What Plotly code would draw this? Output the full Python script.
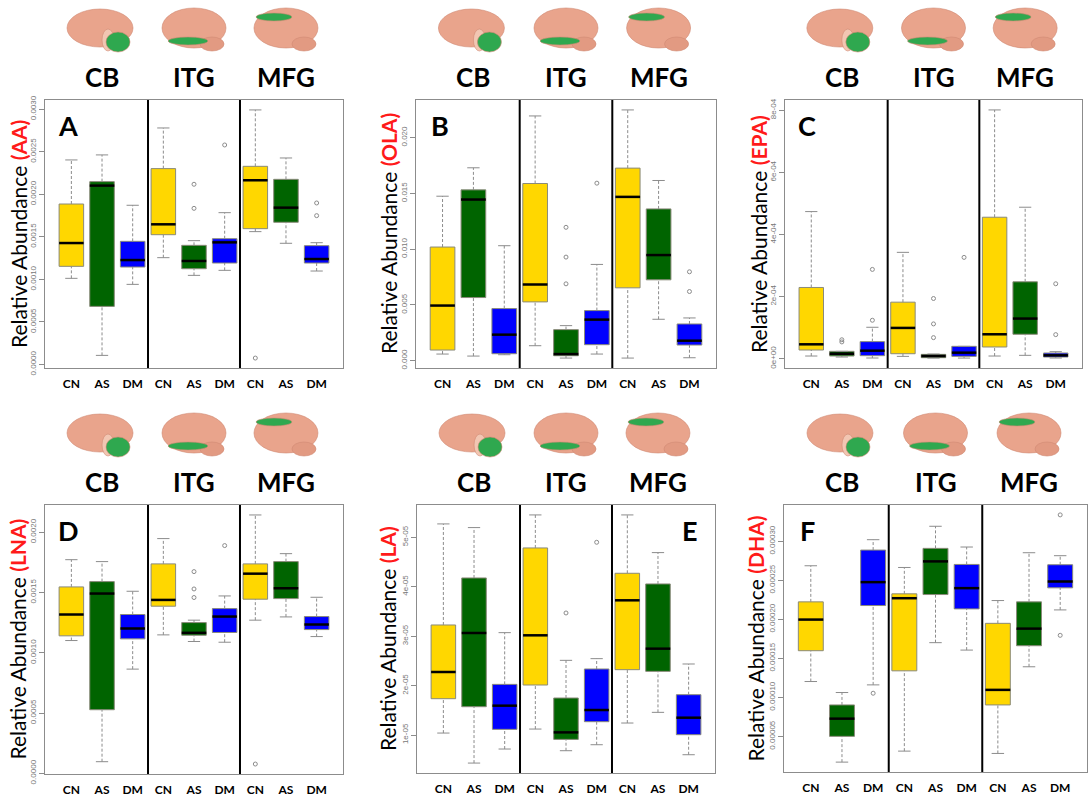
import plotly.graph_objects as go

GROUPS = ["CN", "AS", "DM"]
REGIONS = ["CB", "ITG", "MFG"]
GROUP_COLORS = ["#FFD700", "#006400", "#0000FF"]

# rows: CB-CN, CB-AS, CB-DM, ITG-CN, ITG-AS, ITG-DM, MFG-CN, MFG-AS, MFG-DM
# cols: lower whisker, Q1, median, Q3, upper whisker
AA = [
    [0.001012, 0.001153, 0.001427, 0.001886, 0.002404],
    [0.000106, 0.000682, 0.002102, 0.002149, 0.002463],
    [0.000941, 0.001145, 0.001227, 0.001447, 0.001871],
    [0.001255, 0.001525, 0.001647, 0.002302, 0.002780],
    [0.001047, 0.001125, 0.001216, 0.001400, 0.001455],
    [0.001106, 0.001192, 0.001435, 0.001478, 0.001784],
    [0.001561, 0.001596, 0.002165, 0.002329, 0.002992],
    [0.001424, 0.001671, 0.001843, 0.002176, 0.002427],
    [0.001098, 0.001192, 0.001239, 0.001396, 0.001431],
]
AA_OUT = [[5, 0.002118], [5, 0.001835], [6, 0.002580], [7, 0.0000745],
          [9, 0.001898], [9, 0.001749]]

OLA = [
    [0.00060, 0.00096, 0.004948, 0.010195, 0.014753],
    [0.00042, 0.005667, 0.014453, 0.015322, 0.017301],
    [0.00054, 0.00063, 0.002339, 0.004678, 0.010315],
    [0.001349, 0.005277, 0.006837, 0.015892, 0.021949],
    [0.00024, 0.00045, 0.00060, 0.002789, 0.003148],
    [0.00060, 0.001439, 0.003688, 0.004498, 0.008636],
    [0.00024, 0.006537, 0.014693, 0.017271, 0.022489],
    [0.003718, 0.007256, 0.009475, 0.013613, 0.016162],
    [0.00027, 0.001409, 0.001799, 0.003298, 0.003838],
]
OLA_OUT = [[5, 0.011964], [5, 0.009295], [5, 0.006897], [6, 0.015922],
           [9, 0.007976], [9, 0.006207]]

EPA = [
    [8.6e-6, 2.8e-5, 4.63e-5, 2.293e-4, 4.737e-4],
    [5.4e-6, 8.6e-6, 1.6e-5, 2.37e-5, 2.37e-5],
    [2.2e-6, 9.7e-6, 2.58e-5, 5.49e-5, 1.012e-4],
    [7.5e-6, 1.6e-5, 9.91e-5, 1.82e-4, 3.424e-4],
    [2.0e-6, 3.2e-6, 8.6e-6, 1.4e-5, 1.5e-5],
    [2.0e-6, 7.5e-6, 1.94e-5, 3.98e-5, 3.98e-5],
    [8.6e-6, 3.77e-5, 7.86e-5, 4.555e-4, 8.01e-4],
    [1.08e-5, 7.86e-5, 1.292e-4, 2.476e-4, 4.877e-4],
    [2.2e-6, 5.4e-6, 1.08e-5, 1.83e-5, 2.26e-5],
]
EPA_OUT = [[2, 6.1e-5], [2, 5.4e-5], [3, 2.875e-4], [3, 1.238e-4],
           [5, 1.938e-4], [5, 1.12e-4], [5, 6.78e-5], [6, 3.262e-4],
           [9, 2.412e-4], [9, 7.75e-5]]

LNA = [
    [0.001102, 0.001141, 0.001318, 0.001547, 0.001773],
    [0.0000967, 0.000528, 0.001492, 0.001591, 0.001757],
    [0.000865, 0.001116, 0.001202, 0.001318, 0.001511],
    [0.001149, 0.001387, 0.001439, 0.001738, 0.001948],
    [0.001094, 0.001146, 0.001166, 0.001251, 0.001271],
    [0.001088, 0.001169, 0.001301, 0.001367, 0.001472],
    [0.001271, 0.001445, 0.001657, 0.001738, 0.002144],
    [0.001298, 0.001450, 0.001536, 0.001757, 0.001823],
    [0.001135, 0.001193, 0.001235, 0.001301, 0.001461],
]
LNA_OUT = [[5, 0.001674], [5, 0.001530], [5, 0.001459], [6, 0.001890],
           [7, 0.0000773]]

LA = [
    [1.04e-5, 1.735e-5, 2.275e-5, 3.226e-5, 5.27e-5],
    [4.33e-6, 1.573e-5, 3.064e-5, 4.177e-5, 5.196e-5],
    [7.17e-6, 1.115e-5, 1.594e-5, 2.025e-5, 3.071e-5],
    [1.121e-5, 2.012e-5, 3.017e-5, 4.784e-5, 5.452e-5],
    [6.83e-6, 9.12e-6, 1.054e-5, 1.749e-5, 2.511e-5],
    [8.04e-6, 1.27e-5, 1.506e-5, 2.336e-5, 2.545e-5],
    [1.243e-5, 2.322e-5, 3.725e-5, 4.272e-5, 5.452e-5],
    [1.459e-5, 2.288e-5, 2.747e-5, 4.056e-5, 4.69e-5],
    [6.02e-6, 1.007e-5, 1.351e-5, 1.816e-5, 2.437e-5],
]
LA_OUT = [[5, 3.469e-5], [6, 4.899e-5]]

DHA = [
    [1.203e-4, 1.598e-4, 1.997e-4, 2.224e-4, 2.687e-4],
    [1.7e-5, 5.0e-5, 7.27e-5, 9.03e-5, 1.062e-4],
    [1.16e-4, 2.177e-4, 2.477e-4, 2.888e-4, 3.021e-4],
    [3.11e-5, 1.34e-4, 2.271e-4, 2.327e-4, 2.665e-4],
    [1.701e-4, 2.318e-4, 2.743e-4, 2.91e-4, 3.193e-4],
    [1.606e-4, 2.134e-4, 2.4e-4, 2.704e-4, 2.927e-4],
    [2.81e-5, 9.03e-5, 1.096e-4, 1.949e-4, 2.241e-4],
    [1.392e-4, 1.662e-4, 1.881e-4, 2.224e-4, 2.854e-4],
    [2.121e-4, 2.404e-4, 2.485e-4, 2.7e-4, 2.816e-4],
]
DHA_OUT = [[3, 1.053e-4], [9, 3.339e-4], [9, 1.795e-4]]

AA_TICKS = [0, 0.0005, 0.001, 0.0015, 0.002, 0.0025, 0.003]
AA_LABELS = ["0.0000", "0.0005", "0.0010", "0.0015", "0.0020", "0.0025", "0.0030"]
OLA_TICKS = [0, 0.005, 0.01, 0.015, 0.02]
OLA_LABELS = ["0.000", "0.005", "0.010", "0.015", "0.020"]
EPA_TICKS = [0, 2e-4, 4e-4, 6e-4, 8e-4]
EPA_LABELS = ["0e+00", "2e-04", "4e-04", "6e-04", "8e-04"]
LNA_TICKS = [0, 0.0005, 0.001, 0.0015, 0.002]
LNA_LABELS = ["0.0000", "0.0005", "0.0010", "0.0015", "0.0020"]
LA_TICKS = [1e-5, 2e-5, 3e-5, 4e-5, 5e-5]
LA_LABELS = ["1e-05", "2e-05", "3e-05", "4e-05", "5e-05"]
DHA_TICKS = [5e-5, 1e-4, 1.5e-4, 2e-4, 2.5e-4, 3e-4]
DHA_LABELS = ["0.00005", "0.00010", "0.00015", "0.00020", "0.00025", "0.00030"]

W, H = 1091, 800

# letter, fatty acid, stats, outliers, ticks, labels, pixel box (l, r, t, b),
# title shift, letter shift (negative = from the right edge)
panels = [
    ("A", "AA", AA, AA_OUT, AA_TICKS, AA_LABELS, (45, 343, 100, 368), 27, 23),
    ("B", "OLA", OLA, OLA_OUT, OLA_TICKS, OLA_LABELS, (416, 716, 100, 368), 28, 24),
    ("C", "EPA", EPA, EPA_OUT, EPA_TICKS, EPA_LABELS, (785, 1082, 100, 368), 27, 22),
    ("D", "LNA", LNA, LNA_OUT, LNA_TICKS, LNA_LABELS, (45, 343, 505, 774), 28, 23),
    ("E", "LA", LA, LA_OUT, LA_TICKS, LA_LABELS, (417, 715, 505, 773), 30, -25),
    ("F", "DHA", DHA, DHA_OUT, DHA_TICKS, DHA_LABELS, (784, 1087, 505, 772), 29, 23),
]

# brain icon pieces per region (pixel offsets from the icon centre): dx, dy, w, h, colour
BRAIN_PARTS = [
    [(-2, 4, 66, 38, "#E9A48C"), (6, -8, 12, 22, "#F2C6B2"), (16, -10, 24, 20, "#2FA84F")],
    [(0, 4, 64, 40, "#E9A48C"), (18, -12, 24, 14, "#E29A82"), (-6, -9, 40, 8, "#2FA84F")],
    [(0, 4, 64, 40, "#E9A48C"), (18, -12, 24, 14, "#E29A82"), (-12, 15, 36, 8, "#2FA84F")],
]

fig = go.Figure()
GRID = "#8c8c8c"
pos = list(range(1, 10))

for i, (letter, fa, stats, outs, ticks, labels, box, tshift, lshift) in enumerate(panels, start=1):
    xa = "x" if i == 1 else "x%d" % i
    ya = "y" if i == 1 else "y%d" % i
    l, r, t, b = box

    # boxes, one trace per group colour
    for g in range(3):
        idx = [g, g + 3, g + 6]
        fig.add_trace(go.Box(
            x=[pos[k] for k in idx],
            q1=[stats[k][1] for k in idx],
            median=[stats[k][2] for k in idx],
            q3=[stats[k][3] for k in idx],
            lowerfence=[stats[k][1] for k in idx],
            upperfence=[stats[k][3] for k in idx],
            width=0.8, whiskerwidth=0,
            fillcolor=GROUP_COLORS[g], line=dict(color="#8a8a7a", width=1),
            xaxis=xa, yaxis=ya, showlegend=False, hoverinfo="skip",
        ))

    wx, wy, cx, cy, mx, my = [], [], [], [], [], []
    for k, (lo, q1, med, q3, hi) in enumerate(stats):
        p = pos[k]
        wx += [p, p, None, p, p, None]
        wy += [q3, hi, None, lo, q1, None]
        cx += [p - 0.2, p + 0.2, None, p - 0.2, p + 0.2, None]
        cy += [hi, hi, None, lo, lo, None]
        mx += [p - 0.4, p + 0.4, None]
        my += [med, med, None]
    fig.add_trace(go.Scatter(x=wx, y=wy, mode="lines", line=dict(color=GRID, width=1, dash="3px,2px"),
                             xaxis=xa, yaxis=ya, showlegend=False, hoverinfo="skip"))
    fig.add_trace(go.Scatter(x=cx, y=cy, mode="lines", line=dict(color=GRID, width=1),
                             xaxis=xa, yaxis=ya, showlegend=False, hoverinfo="skip"))
    fig.add_trace(go.Scatter(x=mx, y=my, mode="lines", line=dict(color="black", width=2.5),
                             xaxis=xa, yaxis=ya, showlegend=False, hoverinfo="skip"))
    fig.add_trace(go.Scatter(x=[o[0] for o in outs], y=[o[1] for o in outs], mode="markers",
                             marker=dict(symbol="circle-open", size=4, color=GRID, line=dict(width=1)),
                             xaxis=xa, yaxis=ya, showlegend=False, hoverinfo="skip"))

    # R-style axis limits: data range stretched by 4 %
    vals = [v for row in stats for v in row] + [o[1] for o in outs]
    lo_v, hi_v = min(vals), max(vals)
    pad = 0.04 * (hi_v - lo_v)
    yr = [lo_v - pad, hi_v + pad]

    fig.layout["xaxis" if i == 1 else "xaxis%d" % i] = dict(
        domain=[l / W, r / W], range=[0.5 - 0.36, 9.5 + 0.36], anchor=ya,
        tickvals=pos, ticktext=GROUPS * 3, ticks="", showgrid=False, zeroline=False,
        showline=True, mirror=True, linecolor=GRID, linewidth=1, automargin=False,
        tickfont=dict(family="Lato", size=12, color="black", weight="bold"),
        ticklabelstandoff=5,
    )
    fig.layout["yaxis" if i == 1 else "yaxis%d" % i] = dict(
        domain=[1 - b / H, 1 - t / H], range=yr, anchor=xa,
        tickvals=ticks, ticktext=labels, tickangle=-90, ticks="outside", ticklen=5,
        tickcolor=GRID, showgrid=False, zeroline=False, automargin=False,
        showline=True, mirror=True, linecolor=GRID, linewidth=1,
        tickfont=dict(family="Liberation Sans", size=8, color="#777"),
    )

    # region dividers
    for d in (3.5, 6.5):
        fig.add_shape(type="line", xref=xa, yref=ya, x0=d, x1=d, y0=yr[0], y1=yr[1],
                      line=dict(color="black", width=2))

    # y title with the coloured fatty-acid name
    fig.add_annotation(
        xref=xa + " domain", yref=ya + " domain", x=0, y=0.5, xshift=-tshift,
        xanchor="center", yanchor="middle",
        text="Relative Abundance <b><span style='color:#ff1a1a'>(%s)</span></b>" % fa,
        textangle=-90, showarrow=False, font=dict(family="Lato", size=21, color="black"),
    )

    # panel letter
    fig.add_annotation(
        xref=xa + " domain", yref=ya + " domain", x=1 if lshift < 0 else 0, y=1,
        xshift=lshift, yshift=-25, xanchor="center", yanchor="middle",
        text="<b>%s</b>" % letter,
        showarrow=False, font=dict(family="Lato", size=27, color="black"),
    )

    # region names and brain icons above the panel
    for j, reg in enumerate(REGIONS):
        c = 2 + 3 * j
        fig.add_annotation(
            xref=xa, yref=ya + " domain", x=c, y=1, yshift=23, xanchor="center",
            yanchor="middle", text="<b>%s</b>" % reg,
            showarrow=False, font=dict(family="Lato", size=26, color="black"),
        )
        for dx, dy, sw, sh, col in BRAIN_PARTS[j]:
            fig.add_shape(type="circle", xref=xa, yref=ya + " domain", xsizemode="pixel",
                          ysizemode="pixel", xanchor=c, yanchor=1,
                          x0=dx - sw / 2, x1=dx + sw / 2,
                          y0=68 + dy - sh / 2, y1=68 + dy + sh / 2,
                          fillcolor=col, line=dict(color="#D08A74", width=0.6))

fig.update_layout(
    template="none",
    width=W, height=H, margin=dict(l=0, r=0, t=0, b=0, autoexpand=False),
    paper_bgcolor="white", plot_bgcolor="white", boxmode="overlay", showlegend=False,
)

fig.write_html("out.html", config={"displayModeBar": False},
               post_script="document.body.style.margin='0px';")
